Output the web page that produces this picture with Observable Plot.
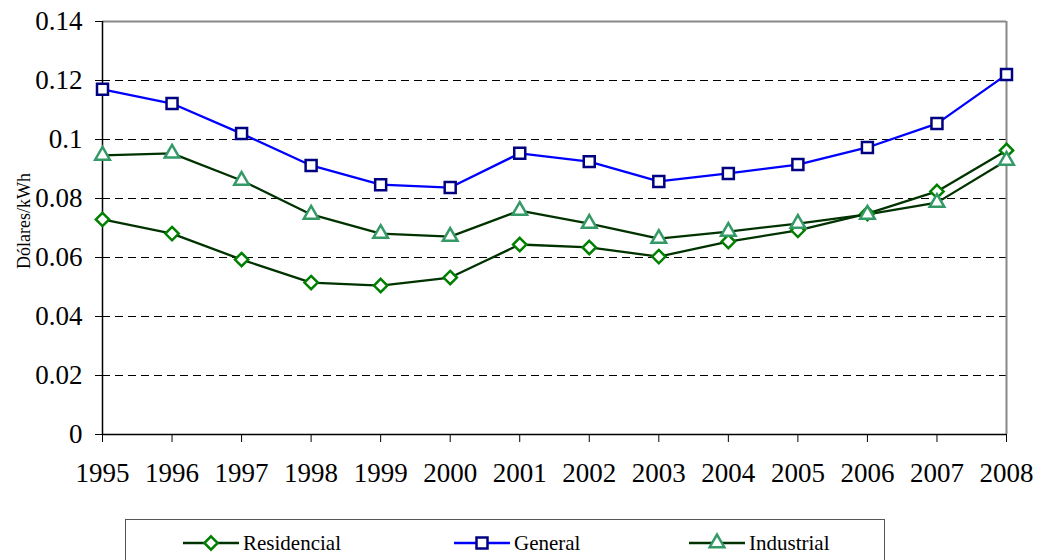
<!DOCTYPE html>
<html>
<head>
<meta charset="utf-8">
<script src="https://cdn.jsdelivr.net/npm/d3@7"></script>
<script src="https://cdn.jsdelivr.net/npm/@observablehq/plot@0.6"></script>
<style>
  html, body { margin: 0; padding: 0; background: #fff; }
  #wrap { position: relative; width: 1037px; height: 560px; overflow: hidden; font-family: "Liberation Serif", "Times New Roman", "DejaVu Serif", serif; }
  #chart svg, #chart svg text { font-family: "Liberation Serif", "Times New Roman", "DejaVu Serif", serif !important; }
  #legend { position: absolute; left: 125px; top: 519px; width: 760px; height: 60px; border: 1px solid #555; box-sizing: border-box; }
  .item { position: absolute; top: 11px; height: 24px; display: flex; align-items: center; font-size: 21px; color: #000; }
  .item svg { display: block; margin-right: 4px; }
</style>
</head>
<body>
<div id="wrap">
  <div id="chart"></div>
  <div id="legend"></div>
</div>
<script>
const years = [1995,1996,1997,1998,1999,2000,2001,2002,2003,2004,2005,2006,2007,2008];
const residencial = [0.0729,0.0681,0.0593,0.0515,0.0505,0.0532,0.0644,0.0634,0.0603,0.0654,0.0692,0.0749,0.0824,0.0963];
const general     = [0.1170,0.1122,0.1020,0.0912,0.0847,0.0837,0.0953,0.0925,0.0858,0.0885,0.0915,0.0973,0.1054,0.1220];
const industrial  = [0.0946,0.0953,0.0861,0.0746,0.0681,0.0671,0.0759,0.0715,0.0664,0.0688,0.0715,0.0746,0.0786,0.0929];
const seriesNames = ["Residencial","General","Industrial"];
const yTicks = [0,0.02,0.04,0.06,0.08,0.1,0.12,0.14];
const gridTicks = [0.02,0.04,0.06,0.08,0.1,0.12];
const yLabel = "Dólares/kWh";

const FONT = "'Liberation Serif', 'Times New Roman', 'DejaVu Serif', serif";
const styles = {
  Residencial: {line: "#003300", mark: "#008000", symbol: "diamond2", r: 6},
  General:     {line: "#0000FF", mark: "#000080", symbol: "square2", r: 7},
  Industrial:  {line: "#003300", mark: "#339966", symbol: "triangle2", r: 7}
};
const valuesBy = {Residencial: residencial, General: general, Industrial: industrial};
const rows = seriesNames.flatMap(s => years.map((y, i) => ({series: s, year: y, value: valuesBy[s][i]})));

const marks = [
  Plot.ruleY(gridTicks, {stroke: "#000", strokeWidth: 1, strokeDasharray: "8,5"}),
  Plot.ruleY([0.14], {stroke: "#888", strokeWidth: 2}),
  Plot.ruleX([2008], {stroke: "#888", strokeWidth: 2}),
  Plot.ruleX([1995], {stroke: "#000", strokeWidth: 1.5}),
  Plot.ruleY([0], {stroke: "#000", strokeWidth: 1.5}),
  Plot.axisX({ticks: years, tickFormat: d => String(d), tickSize: 8, tickPadding: 20, fontSize: 27, fontFamily: FONT, stroke: "#000", fill: "#000", label: null}),
  Plot.axisY({ticks: yTicks, tickFormat: d => String(d), tickSize: 7, tickPadding: 13, fontSize: 27, fontFamily: FONT, stroke: "#000", fill: "#000", label: null}),
  Plot.text([yLabel], {frameAnchor: "left", textAnchor: "middle", dx: -78, dy: -7, rotate: -90, fontSize: 18, fontFamily: FONT, fill: "#000"})
];
for (const s of seriesNames) {
  const data = rows.filter(d => d.series === s);
  marks.push(Plot.line(data, {x: "year", y: "value", stroke: styles[s].line, strokeWidth: 2.3}));
}
for (const s of seriesNames) {
  const data = rows.filter(d => d.series === s);
  marks.push(Plot.dot(data, {x: "year", y: "value", symbol: () => styles[s].symbol, stroke: styles[s].mark, fill: "#fff", strokeWidth: 2.5, r: styles[s].r}));
}

const chart = Plot.plot({
  width: 1037,
  height: 510,
  marginLeft: 102,
  marginRight: 31,
  marginTop: 21,
  marginBottom: 76,
  style: {fontFamily: FONT, color: "#000", background: "#fff"},
  x: {type: "linear", domain: [1995, 2008]},
  y: {domain: [0, 0.14]},
  symbol: {type: "identity"},
  marks
});
document.getElementById("chart").appendChild(chart);

// legend
const legend = document.getElementById("legend");
const legendPos = {Residencial: 57, General: 328, Industrial: 563};
const symFns = {Residencial: d3.symbolDiamond2, General: d3.symbolSquare2, Industrial: d3.symbolTriangle2};
for (const s of seriesNames) {
  const item = document.createElement("div");
  item.className = "item";
  item.style.left = legendPos[s] + "px";
  const sym = d3.symbol(symFns[s], Math.PI * styles[s].r * styles[s].r)();
  item.innerHTML = `<svg width="56" height="24" viewBox="0 0 56 24">
    <line x1="0" x2="56" y1="12" y2="12" stroke="${styles[s].line}" stroke-width="2.5"/>
    <path d="${sym}" transform="translate(28,12)" fill="#fff" stroke="${styles[s].mark}" stroke-width="2.5"/>
  </svg><span>${s}</span>`;
  legend.appendChild(item);
}
</script>
</body>
</html>
